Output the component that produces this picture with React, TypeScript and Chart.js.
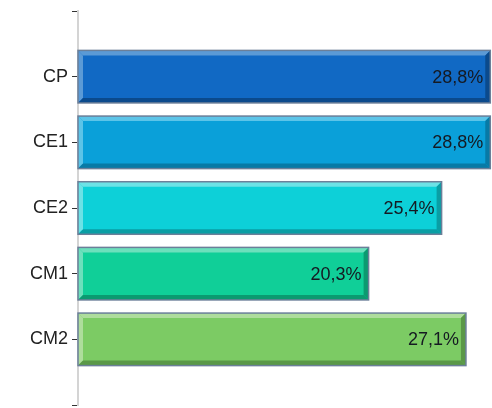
import React, { useEffect, useRef } from "react";
import { Chart, registerables } from "chart.js";

Chart.register(...registerables);

const categories = ["CP", "CE1", "CE2", "CM1", "CM2"];
const values = [28.8, 28.8, 25.4, 20.3, 27.1];
const valueLabels = ["28,8%", "28,8%", "25,4%", "20,3%", "27,1%"];
const baseColors = ["#1169c4", "#0aa0d9", "#0dd0d8", "#10cf98", "#7ccb64"];
const lightColors = ["#5b9ad6", "#5cc4e8", "#6ce2e6", "#6de0bc", "#aedd9c"];
const darkColors = ["#0b4a8c", "#077aa6", "#0a9ea4", "#0b9a70", "#5a9848"];

const bevelPlugin = {
  id: "bevel",
  afterDatasetsDraw(chart: any) {
    const ctx = chart.ctx;
    const meta = chart.getDatasetMeta(0);
    meta.data.forEach((el: any, i: number) => {
      const p = el.getProps(["x", "y", "base", "height"], true);
      const l = p.base;
      const r = p.x;
      const t = p.y - p.height / 2;
      const b = p.y + p.height / 2;
      const w = 5;
      ctx.save();
      ctx.fillStyle = lightColors[i];
      ctx.beginPath();
      ctx.moveTo(l, t);
      ctx.lineTo(r, t);
      ctx.lineTo(r - w, t + w);
      ctx.lineTo(l + w, t + w);
      ctx.closePath();
      ctx.fill();
      ctx.beginPath();
      ctx.moveTo(l, t);
      ctx.lineTo(l + w, t + w);
      ctx.lineTo(l + w, b - w);
      ctx.lineTo(l, b);
      ctx.closePath();
      ctx.fill();
      ctx.fillStyle = darkColors[i];
      ctx.beginPath();
      ctx.moveTo(l, b);
      ctx.lineTo(l + w, b - w);
      ctx.lineTo(r - w, b - w);
      ctx.lineTo(r, b);
      ctx.closePath();
      ctx.fill();
      ctx.beginPath();
      ctx.moveTo(r, t);
      ctx.lineTo(r, b);
      ctx.lineTo(r - w, b - w);
      ctx.lineTo(r - w, t + w);
      ctx.closePath();
      ctx.fill();
      ctx.strokeStyle = "#6b7f99";
      ctx.lineWidth = 1.5;
      ctx.strokeRect(l, t, r - l, b - t);
      ctx.fillStyle = "#151a22";
      ctx.font = '18px "Liberation Sans", Arial, sans-serif';
      ctx.textAlign = "right";
      ctx.textBaseline = "middle";
      ctx.fillText(valueLabels[i], r - 7, p.y + 1);
      ctx.restore();
    });
  },
};

export default function App() {
  const ref = useRef<HTMLCanvasElement>(null);
  useEffect(() => {
    document.body.style.margin = "0";
    const chart = new Chart(ref.current!, {
      type: "bar",
      data: {
        datasets: [
          {
            data: values.map((v, i) => ({ x: v, y: i + 1 })),
            backgroundColor: baseColors,
            borderWidth: 0,
            barPercentage: 0.8,
            categoryPercentage: 1,
          },
        ],
      },
      options: {
        indexAxis: "y",
        animation: false,
        responsive: false,
        maintainAspectRatio: false,
        layout: { padding: { top: 11, bottom: 3, right: 1, left: 0 } },
        plugins: { legend: { display: false }, tooltip: { enabled: false } },
        scales: {
          x: { type: "linear", display: false, min: 0, max: 28.85 },
          y: {
            type: "linear",
            reverse: true,
            offset: false,
            min: 0,
            max: 6,
            afterFit: (s: any) => {
              s.width = 78;
              s.paddingTop = 0;
              s.paddingBottom = 0;
            },
            afterBuildTicks: (s: any) => {
              s.ticks = [0, 1, 2, 3, 4, 5, 6].map((v) => ({ value: v }));
            },
            ticks: {
              padding: 4,
              color: "#222",
              font: { family: '"Liberation Sans", Arial, sans-serif', size: 18 },
              callback: (v: any) => categories[Number(v) - 1] ?? "",
            },
            grid: { drawOnChartArea: false, offset: false, tickLength: 6, tickColor: "#333", lineWidth: 1 },
            border: { color: "#d4d4d4", width: 2 },
          },
        },
      },
      plugins: [bevelPlugin],
    } as any);
    return () => chart.destroy();
  }, []);
  return (
    <div style={{ width: 492, height: 408 }}>
      <canvas ref={ref} width={492} height={408} />
    </div>
  );
}
